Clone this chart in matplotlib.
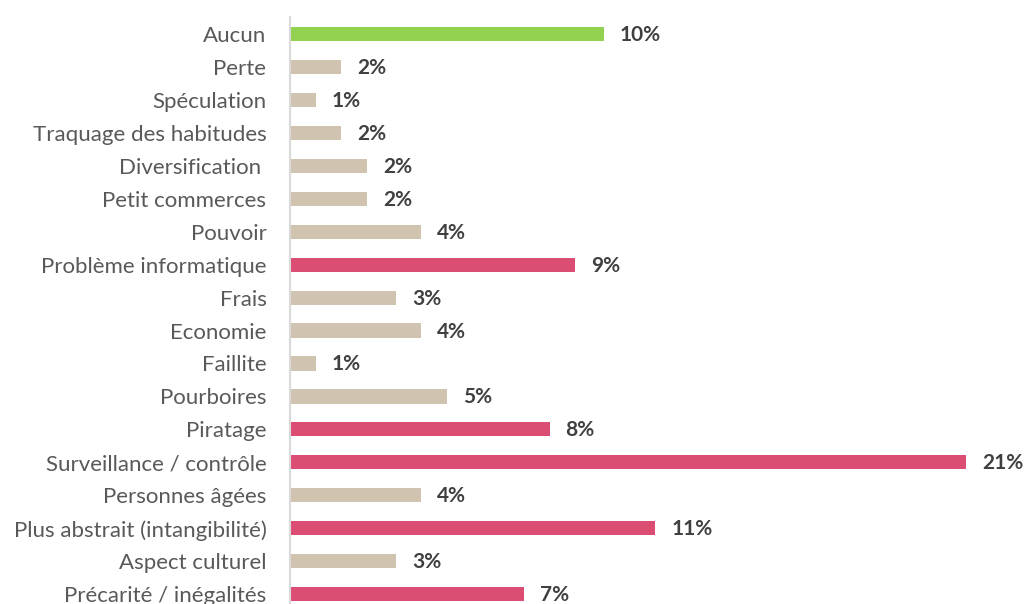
import matplotlib
matplotlib.use("Agg")
import matplotlib.pyplot as plt

# categories, top to bottom
categories = [
    "Aucun", "Perte", "Spéculation", "Traquage des habitudes", "Diversification ",
    "Petit commerces", "Pouvoir", "Problème informatique", "Frais", "Economie",
    "Faillite", "Pourboires", "Piratage", "Surveillance / contrôle",
    "Personnes âgées", "Plus abstrait (intangibilité)", "Aspect culturel",
    "Précarité / inégalités",
]
# share of answers (%)
values = [9.8, 1.6, 0.8, 1.6, 2.4, 2.4, 4.1, 8.9, 3.3, 4.1,
          0.8, 4.9, 8.1, 21.1, 4.1, 11.4, 3.3, 7.3]
labels = ["10%", "2%", "1%", "2%", "2%", "2%", "4%", "9%", "3%", "4%",
          "1%", "5%", "8%", "21%", "4%", "11%", "3%", "7%"]
groups = ["none", "other", "other", "other", "other", "other", "other", "key",
          "other", "other", "other", "other", "key", "key", "other", "key",
          "other", "key"]

colors = {"none": "#92D050", "other": "#D0C3AF", "key": "#DB4D72"}

plt.rcParams["font.family"] = ["Lato", "DejaVu Sans"]

fig = plt.figure(figsize=(10.27, 6.04), dpi=100)
ax = fig.add_axes([290 / 1027, 0, 737 / 1027, 587 / 604])

ypos = list(range(len(categories)))
ax.barh(ypos, values, height=0.43, color=[colors[g] for g in groups])

for y, v, lab in zip(ypos, values, labels):
    ax.text(v + 0.5, y + 0.03, lab, va="center", ha="left", fontsize=15,
            fontweight="bold", color="#404040", clip_on=False)

ax.set_yticks(ypos)
ax.set_yticklabels(categories, fontsize=16, color="#595959")
ax.tick_params(axis="y", length=0, pad=17)
ax.set_xticks([])
ax.set_xlim(0, 23)
ax.set_ylim(17.3, -0.516)

for s in ["top", "right", "bottom"]:
    ax.spines[s].set_visible(False)
ax.spines["left"].set_color("#D9D9D9")
ax.spines["left"].set_linewidth(1.5)

fig.savefig("out.png", dpi=100)
